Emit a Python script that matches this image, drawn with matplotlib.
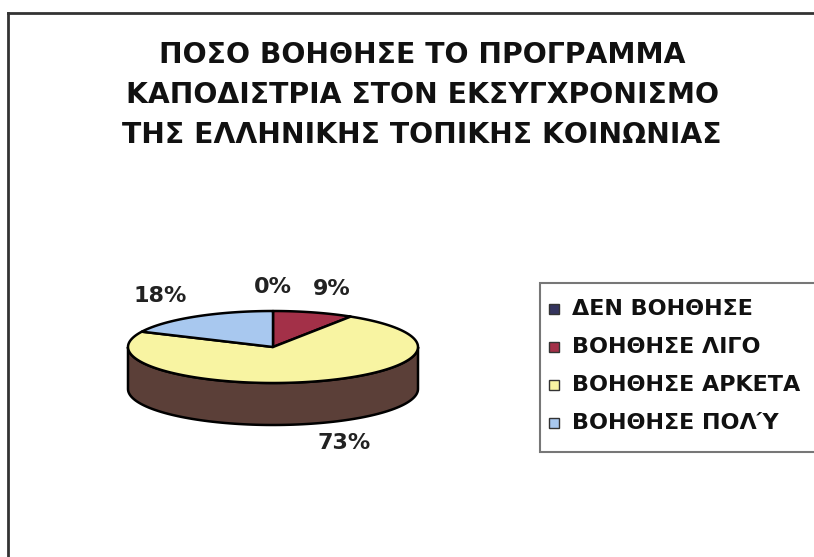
import numpy as np
import matplotlib.pyplot as plt
from matplotlib.patches import Polygon, Rectangle

# data
categories = ['ΔΕΝ ΒΟΗΘΗΣΕ', 'ΒΟΗΘΗΣΕ ΛΙΓΟ', 'ΒΟΗΘΗΣΕ ΑΡΚΕΤΑ', 'ΒΟΗΘΗΣΕ ΠΟΛΎ']
values = [0, 9, 73, 18]
title_lines = ['ΠΟΣΟ ΒΟΗΘΗΣΕ ΤΟ ΠΡΟΓΡΑΜΜΑ',
               'ΚΑΠΟΔΙΣΤΡΙΑ ΣΤΟΝ ΕΚΣΥΓΧΡΟΝΙΣΜΟ',
               'ΤΗΣ ΕΛΛΗΝΙΚΗΣ ΤΟΠΙΚΗΣ ΚΟΙΝΩΝΙΑΣ']

top_colors = ['#34345e', '#a33048', '#f8f4a2', '#a8c8ef']
side_colors = ['#22223e', '#6a2030', '#5b3f38', '#6c829c']

plt.rcParams['font.family'] = ['DejaVu Sans']

fig = plt.figure(figsize=(8.14, 5.57), dpi=100)
ax = fig.add_axes([0, 0, 1, 1])
ax.set_xlim(0, 814)
ax.set_ylim(557, 0)
ax.axis('off')

# frame
ax.plot([8, 814], [13, 13], color='#333333', lw=2)
ax.plot([8, 8], [13, 557], color='#333333', lw=2)

# title
for i, line in enumerate(title_lines):
    ax.text(422, 55 + 40 * i, line, ha='center', va='center',
            fontsize=20.3, fontweight='bold', color='#111111')

# 3d pie geometry (angles clockwise from 12 o'clock)
cx, cy, a, b, depth = 273, 347, 145, 36, 42

def ell(t):
    t = np.radians(t)
    return cx + a * np.sin(t), cy - b * np.cos(t)

total = sum(values)
starts = np.cumsum([0] + values[:-1]) / total * 360
ends = np.cumsum(values) / total * 360

# sides (front half only, 90..270 deg)
for s, e, col in zip(starts, ends, side_colors):
    lo, hi = max(s, 90), min(e, 270)
    if hi <= lo:
        continue
    t = np.linspace(lo, hi, 100)
    x, y = ell(t)
    pts = np.column_stack([np.r_[x, x[::-1]], np.r_[y, y[::-1] + depth]])
    ax.add_patch(Polygon(pts, closed=True, fc=col, ec='black', lw=1.8))

# tops
for s, e, col in zip(starts, ends, top_colors):
    if e - s <= 0:
        continue
    t = np.linspace(s, e, 200)
    x, y = ell(t)
    pts = np.column_stack([np.r_[cx, x], np.r_[cy, y]])
    ax.add_patch(Polygon(pts, closed=True, fc=col, ec='black', lw=1.8, joinstyle='round'))

# percent labels
for s, e, v in zip(starts, ends, values):
    m = np.radians((s + e) / 2)
    k = 1.45 if np.cos(m) >= 0 else 1.75
    lx = cx + k * a * np.sin(m)
    ly = cy - (b + 24) * np.cos(m)
    if np.cos(m) < 0:
        ly += depth - 4
    ax.text(lx, ly, f'{v}%', ha='center', va='center', fontsize=16,
            fontweight='bold', color='#222222')

# legend
ax.add_patch(Rectangle((540, 283), 290, 169, fc='white', ec='#777777', lw=1.5))
for i, (lab, col) in enumerate(zip(categories, top_colors)):
    yy = 309 + 38 * i
    ax.add_patch(Rectangle((549, yy - 5), 10, 10, fc=col, ec='#333333', lw=1))
    ax.text(572, yy, lab, ha='left', va='center', fontsize=16,
            fontweight='bold', color='#111111')

fig.savefig('out.png', dpi=100)
